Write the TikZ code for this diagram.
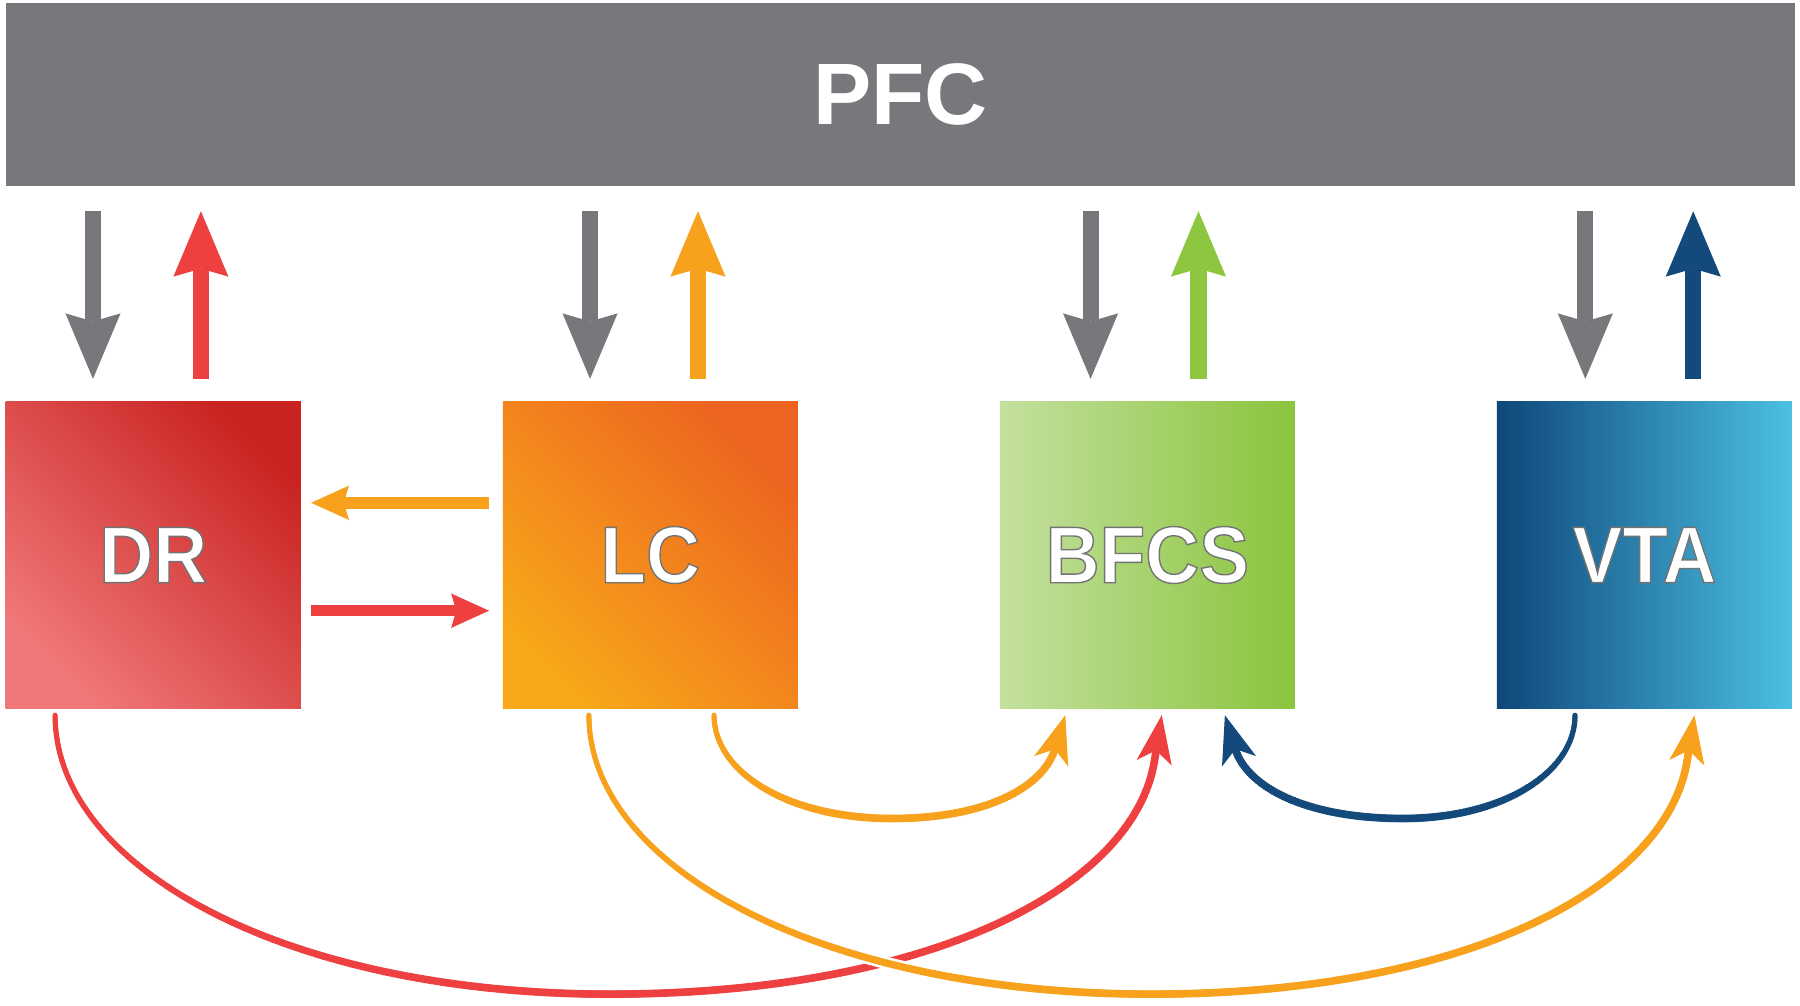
\documentclass[tikz,border=0pt]{standalone}
\usepackage{fontspec}
\setmainfont{Liberation Sans}
\newfontfamily\labfont[FakeStretch=0.93]{Liberation Sans}
\usetikzlibrary{arrows.meta,calc,decorations.markings}
\definecolor{pfcgray}{HTML}{77787B}
\definecolor{arrgray}{HTML}{77787B}
\definecolor{cred}{HTML}{EE4040}
\definecolor{corange}{HTML}{F7A11D}
\definecolor{cgreen}{HTML}{8DC63F}
\definecolor{cnavy}{HTML}{134A7B}
\definecolor{drdark}{HTML}{C92422}
\definecolor{drlight}{HTML}{F07878}
\definecolor{lcdark}{HTML}{ED6420}
\definecolor{lclight}{HTML}{F8A71A}
\definecolor{bfleft}{HTML}{C4E09F}
\definecolor{bfright}{HTML}{8AC43C}
\definecolor{vtleft}{HTML}{0E477A}
\definecolor{vtright}{HTML}{4BC0E3}
\newcommand\outlinedtext[1]{\special{pdf:literal direct 2 Tr 0.6 w 0.45 0.45 0.45 RG}#1\special{pdf:literal direct 0 Tr}}
\tikzset{
  region/.style={minimum width=128.5pt, minimum height=133.5pt, inner sep=0pt, outer sep=0pt,
    text=white, font=\labfont\bfseries\fontsize{35pt}{40pt}\selectfont},
  vdown/.style={draw=arrgray, line width=7pt, -{Stealth[length=28.5pt,width=24pt,inset=3.5pt,line width=0pt]}},
  vup/.style={draw=#1, line width=7pt, -{Stealth[length=28.5pt,width=24pt,inset=3.5pt,line width=0pt]}},
  hor/.style={draw=#1, line width=5pt, -{Stealth[length=16.5pt,width=15pt,inset=2.2pt,line width=0pt]}},
  taper/.style={postaction={decorate,decoration={markings,
    mark=between positions 0 and 0.97 step 1pt with {%
      \pgfmathsetmacro\tpos{\pgfkeysvalueof{/pgf/decoration/mark info/distance from start}/\pgfdecoratedpathlength}%
      \pgfmathsetmacro\trad{1.1+0.65*sin(min(90,200*\tpos))}%
      \fill[#1] (0,0) circle[radius=\trad pt];}}}},
  loopline/.style={draw=#1, line width=2.2pt, -{Stealth[length=21pt,width=15.5pt,inset=5.5pt,line width=0pt]}, taper=#1},
  halo/.style={preaction={draw=white, line width=5.4pt, arrows=-}}
}
\begin{document}
\begin{tikzpicture}[x=0.5pt,y=-0.5pt]
\fill[white] (0,0) rectangle (1568,876);
\useasboundingbox (0,0) rectangle (1568,876);

% PFC bar
\node[fill=pfcgray, minimum width=779.5pt, minimum height=79.5pt, inner sep=0pt, outer sep=0pt,
  text=white, font=\bfseries\fontsize{38pt}{44pt}\selectfont] (PFC) at (784.5,82.5) {PFC};

% regions
\node[region, top color=drdark, bottom color=drlight, shading angle=-45] (DR) at (133.5,483.5) {\outlinedtext{DR}};
\node[region, top color=lcdark, bottom color=lclight, shading angle=-45] (LC) at (566.5,483.5) {\outlinedtext{LC}};
\node[region, left color=bfleft, right color=bfright] (BFCS) at (999.5,483.5) {\outlinedtext{BFCS}};
\node[region, left color=vtleft, right color=vtright] (VTA) at (1432.5,483.5) {\outlinedtext{VTA}};

% PFC -> regions (gray) and regions -> PFC (coloured)
\draw[vdown] ($(DR.north |- PFC.south)+(-52.5,22)$) -- ($(DR.north)+(-52.5,-20)$);
\draw[vup=cred] ($(DR.north)+(41.5,-20)$) -- ($(DR.north |- PFC.south)+(41.5,22)$);
\draw[vdown] ($(LC.north |- PFC.south)+(-52.5,22)$) -- ($(LC.north)+(-52.5,-20)$);
\draw[vup=corange] ($(LC.north)+(41.5,-20)$) -- ($(LC.north |- PFC.south)+(41.5,22)$);
\draw[vdown] ($(BFCS.north |- PFC.south)+(-49.5,22)$) -- ($(BFCS.north)+(-49.5,-20)$);
\draw[vup=cgreen] ($(BFCS.north)+(44.5,-20)$) -- ($(BFCS.north |- PFC.south)+(44.5,22)$);
\draw[vdown] ($(VTA.north |- PFC.south)+(-51.5,22)$) -- ($(VTA.north)+(-51.5,-20)$);
\draw[vup=cnavy] ($(VTA.north)+(42.5,-20)$) -- ($(VTA.north |- PFC.south)+(42.5,22)$);

% DR <-> LC
\draw[hor=corange] ($(LC.west)+(-12,-45.5)$) -- ($(DR.east)+(9,-45.5)$);
\draw[hor=cred] ($(DR.east)+(9,48.5)$) -- ($(LC.west)+(-12,48.5)$);

% bottom loops
\draw[loopline=cred] ($(DR.south)+(-85.5,6)$) .. controls +(0,134) and +(-280,0) .. ++(483,243)
  .. controls +(276,0) and +(-18,112) .. ($(BFCS.south)+(6.2,45.5)$) -- ($(BFCS.south)+(12.5,6)$);
\draw[loopline=corange, halo] ($(LC.south)+(-53.5,6)$) .. controls +(0,134) and +(-284,0) .. ++(490,243)
  .. controls +(271,0) and +(-18,112) .. ($(VTA.south)+(37.2,45.5)$) -- ($(VTA.south)+(43.5,6)$);
\draw[loopline=corange] ($(LC.south)+(55.5,6)$) .. controls +(0,50) and +(-90,0) .. ++(155,90)
  .. controls +(82,0) and +(-10,34) .. ($(BFCS.south)+(-80.3,34.7)$) -- ($(BFCS.south)+(-71.5,6)$);
\draw[loopline=cnavy] ($(VTA.south)+(-60.5,6)$) .. controls +(0,50) and +(87,0) .. ++(-150,90)
  .. controls +(-84,0) and +(10,34) .. ($(BFCS.south)+(76.3,34.7)$) -- ($(BFCS.south)+(67.5,6)$);
\end{tikzpicture}
\end{document}
